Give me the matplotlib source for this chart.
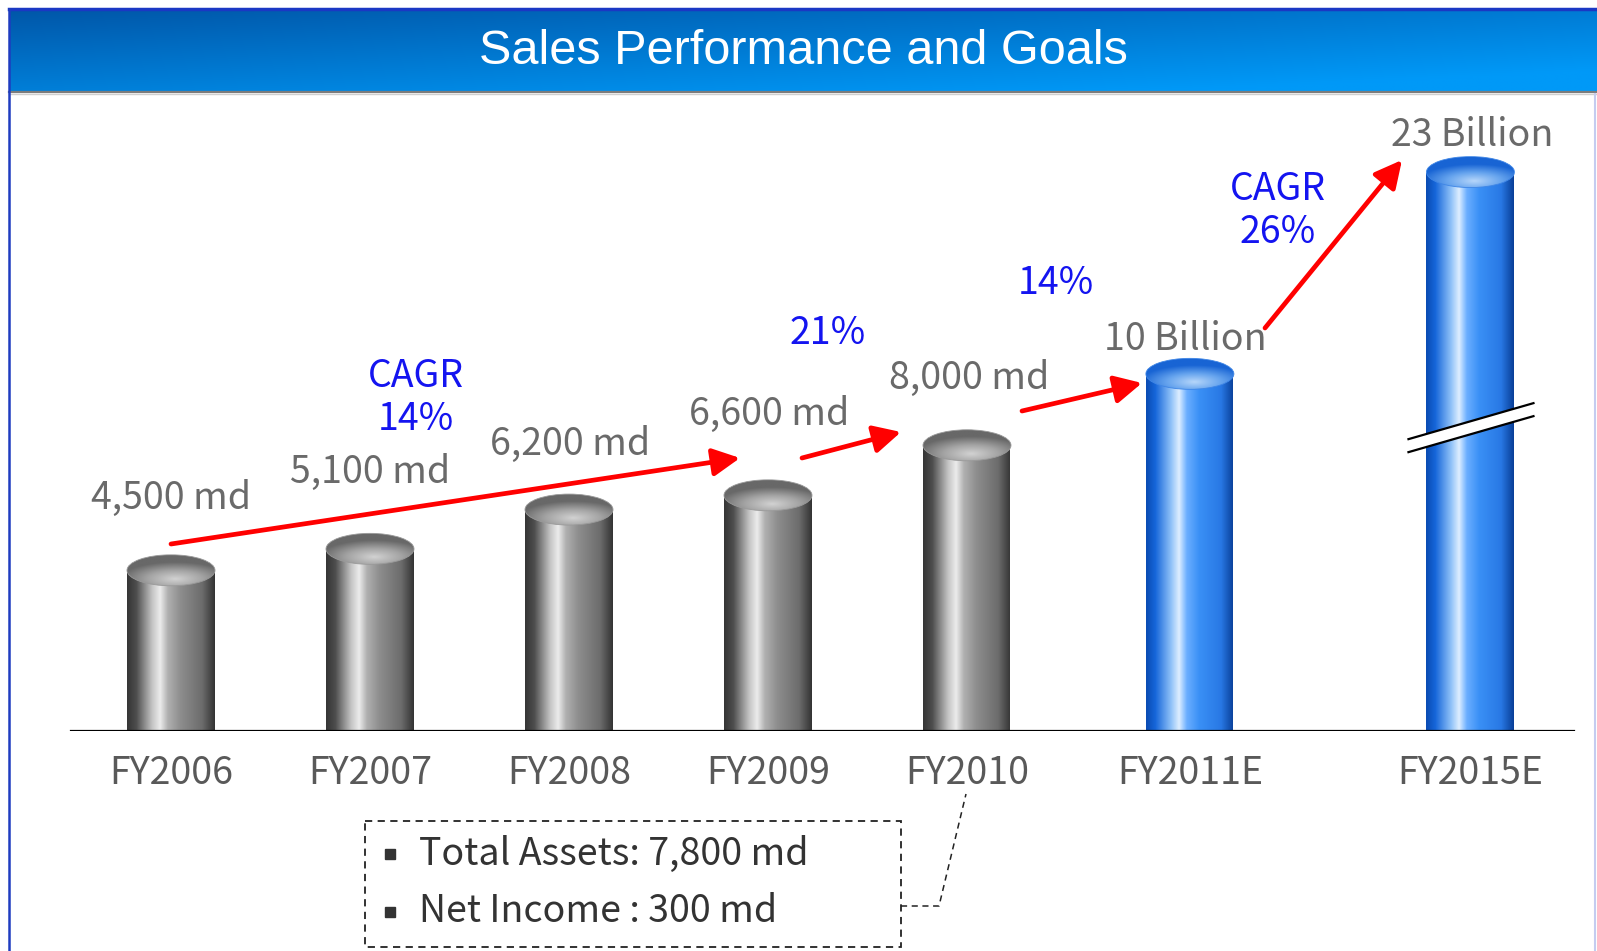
import numpy as np
import matplotlib
matplotlib.use('Agg')
import matplotlib.pyplot as plt
from matplotlib.patches import Ellipse, Rectangle, Polygon
from matplotlib.colors import LinearSegmentedColormap
from matplotlib.transforms import ScaledTranslation

# ---- data ----
years = ['FY2006', 'FY2007', 'FY2008', 'FY2009', 'FY2010', 'FY2011E', 'FY2015E']
sales_md = [4500, 5100, 6200, 6600, 8000, 10000, 23000]
value_labels = ['4,500 md', '5,100 md', '6,200 md', '6,600 md', '8,000 md',
                '10 Billion', '23 Billion']
is_goal = [False, False, False, False, False, True, True]
cagr_labels = ['CAGR\n14%', '21%', '14%', 'CAGR\n26%']
notes = ['Total Assets: 7,800 md', 'Net Income : 300 md']
title = 'Sales Performance and Goals'

# ---- layout (pixels of the 1597x951 slide) ----
W, H = 1597, 951
xpos = [0, 1, 2, 3, 4, 5.12, 6.53]
x0_px, step_px = 171, 199
base_px, top_px = 731, 100
md_per_px = 28.0
label_px = [(171, 498), (370, 472), (570, 444), (769, 414), (969, 378),
            (1185, 339), (1472, 136)]
cagr_px = [(416, 398), (828, 333), (1056, 283), (1278, 211)]
arrows_px = [((171, 544), (740, 458)), ((802, 458), (901, 432)),
             ((1022, 411), (1142, 383)), ((1265, 328), (1402, 160))]
fs = 27

plt.rcParams['font.family'] = ['Noto Sans CJK KR', 'DejaVu Sans']

# broken y axis for the FY2015E goal
BRK = 10500
SQ = 0.412


def fwd(y):
    y = np.asarray(y, dtype=float)
    return np.where(y <= BRK, y, BRK + (y - BRK) * SQ)


def inv(y):
    y = np.asarray(y, dtype=float)
    return np.where(y <= BRK, y, BRK + (y - BRK) / SQ)


gray_body = LinearSegmentedColormap.from_list('gb', [
    (0, '#363636'), (0.1, '#4e4e4e'), (0.28, '#c4c4c4'), (0.37, '#ececec'),
    (0.46, '#b0b0b0'), (0.6, '#8e8e8e'), (0.85, '#6c6c6c'), (1, '#313131')])
blue_body = LinearSegmentedColormap.from_list('bb', [
    (0, '#0a4cb4'), (0.1, '#1666da'), (0.28, '#90c2f8'), (0.37, '#ddeeff'),
    (0.46, '#6aaeff'), (0.6, '#3a90f6'), (0.85, '#2878e4'), (1, '#073c94')])
gray_top = LinearSegmentedColormap.from_list('gt', ['#d2d2d2', '#a4a4a4', '#686868'])
blue_top = LinearSegmentedColormap.from_list('bt', ['#b6d6fa', '#66a4ee', '#1864d4'])

fig = plt.figure(figsize=(W / 100, H / 100), dpi=100)
fig.patch.set_facecolor('white')

ax = fig.add_axes([0, (H - base_px) / H, 1, (base_px - top_px) / H])
ax.set_yscale('function', functions=(fwd, inv))
ax.set_xlim(-x0_px / step_px, (W - x0_px) / step_px)
ax.set_ylim(0, float(inv((base_px - top_px) * md_per_px)))
ax.set_autoscale_on(False)
ax.axis('off')

bw_px, eh_px = 88, 31
bw = bw_px / step_px
bars = ax.bar(xpos, sales_md, width=bw, color='none', edgecolor='none')

hgrad = np.linspace(0, 1, 256).reshape(1, -1)
uu, vv = np.meshgrid(np.linspace(-1, 1, 180), np.linspace(1, -1, 60))
spot = np.clip(np.sqrt(((uu - 0.1) / 1.25) ** 2 + ((vv + 0.55) / 1.1) ** 2), 0, 1)

for x, val, goal in zip(xpos, sales_md, is_goal):
    body = blue_body if goal else gray_body
    cap = blue_top if goal else gray_top
    ax.imshow(body(hgrad), extent=[x - bw / 2, x + bw / 2, 0, val],
              aspect='auto', interpolation='bilinear', zorder=2)
    tr = fig.dpi_scale_trans + ScaledTranslation(x, val, ax.transData)
    ell = Ellipse((0, 0), bw_px / 100, eh_px / 100, transform=tr,
                  facecolor='none', edgecolor='#9a9a9a' if not goal else '#3f86e6',
                  lw=0.6, zorder=4, clip_on=False)
    ax.add_patch(ell)
    im = ax.imshow(cap(spot), extent=(-bw_px / 200, bw_px / 200, -eh_px / 200, eh_px / 200),
                   transform=tr, aspect='auto', interpolation='bilinear', zorder=3)
    im.set_clip_path(ell)

# break marks on the FY2015E bar
brk_y = 8480
tr = fig.dpi_scale_trans + ScaledTranslation(xpos[-1], brk_y, ax.transData)
l1 = [(-0.62, -0.11), (0.63, 0.25)]
l2 = [(-0.62, -0.24), (0.63, 0.12)]
ax.add_patch(Polygon(l1 + l2[::-1], closed=True, transform=tr, facecolor='white',
                     edgecolor='none', zorder=5, clip_on=False))
for ln in (l1, l2):
    ax.plot([p[0] for p in ln], [p[1] for p in ln], color='black', lw=1.6,
            transform=tr, zorder=6, clip_on=False)

ax.axhline(0, xmin=71 / W, xmax=1574 / W, color='black', lw=1.6, zorder=6)

for x, lbl in zip(xpos, years):
    ax.annotate(lbl, (x, 0), xytext=(0, -43 * 0.72), textcoords='offset points',
                ha='center', va='center', fontsize=fs, color='#595959')

# ---- overlay in slide pixels: title bar, labels, arrows, note box ----
ov = fig.add_axes([0, 0, 1, 1], zorder=5)
ov.set_xlim(0, W)
ov.set_ylim(H, 0)
ov.set_autoscale_on(False)
ov.axis('off')
ov.patch.set_alpha(0)

gx, gy = np.meshgrid(np.linspace(0, 1, 300), np.linspace(0, 1, 40))
t = np.clip(0.55 * gx + 0.6 * gy, 0, 1)[..., None]
c0 = np.array([0.0, 0.34, 0.66])
c1 = np.array([0.0, 0.60, 0.97])
ov.imshow(c0 * (1 - t) + c1 * t, extent=[9, W, 92, 9], aspect='auto',
          interpolation='bilinear', zorder=1)
ov.plot([9, W], [9, 9], color='#1a38c4', lw=2.5, zorder=2)
ov.plot([9, W], [92, 92], color='#7c7c7c', lw=1.6, zorder=2)
ov.plot([9, W], [94, 94], color='#d0d0d0', lw=1.0, zorder=2)
ov.plot([9, 9], [9, H], color='#1e3cc0', lw=1.8, zorder=2)
ov.plot([W - 2, W - 2], [94, H], color='#c4ccf0', lw=1.5, zorder=2)
ov.text(803, 51, title, ha='center', va='center', color='white', fontsize=35,
        family=['Liberation Sans', 'DejaVu Sans'], zorder=3)

for (px, py), lbl in zip(label_px, value_labels):
    ov.text(px, py, lbl, ha='center', va='center', fontsize=fs, color='#6a6a6a')

for (px, py), lbl in zip(cagr_px, cagr_labels):
    ov.text(px, py, lbl, ha='center', va='center', fontsize=fs, color='#1414f0',
            linespacing=1.12)

for start, end in arrows_px:
    ov.annotate('', xy=end, xytext=start,
                arrowprops=dict(arrowstyle='-|>,head_length=0.55,head_width=0.28',
                                color='#ff0000', lw=3.4, mutation_scale=30,
                                shrinkA=0, shrinkB=0))

ov.add_patch(Rectangle((365, 821), 536, 126, fill=False, edgecolor='#222222',
                       lw=1.3, ls=(0, (4, 3))))
ov.plot([901, 939, 966], [906, 906, 794], color='#222222', lw=1.1, ls=(0, (4, 3)))
for i, note in enumerate(notes):
    y = 854 + i * 58
    ov.plot([390], [y], marker='s', markersize=7, color='#333333')
    ov.text(419, y, note, ha='left', va='center', fontsize=fs, color='#333333')

fig.savefig('out.png', dpi=100)
